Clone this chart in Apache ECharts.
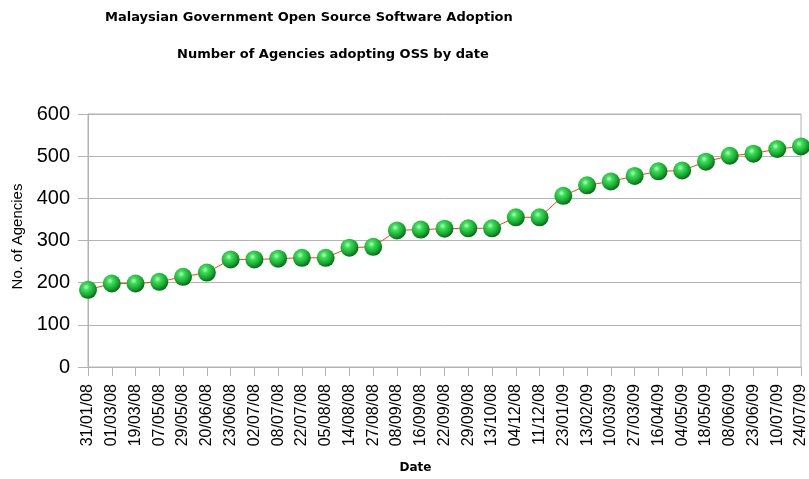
<!DOCTYPE html>
<html>
<head>
<meta charset="utf-8">
<script src="https://cdn.jsdelivr.net/npm/echarts@6/dist/echarts.min.js"></script>
<style>html,body{margin:0;padding:0;background:#fff}#c{width:809px;height:479px}</style>
</head>
<body>
<div id="c"></div>
<script>
const dates = ["31/01/08","01/03/08","19/03/08","07/05/08","29/05/08","20/06/08","23/06/08","02/07/08","08/07/08","22/07/08","05/08/08","14/08/08","27/08/08","08/09/08","16/09/08","22/09/08","29/09/08","13/10/08","04/12/08","11/12/08","23/01/09","13/02/09","10/03/09","27/03/09","16/04/09","04/05/09","18/05/09","08/06/09","23/06/09","10/07/09","24/07/09"];
const agencies = [183,198,198,202,214,224,255,255,257,259,259,283,285,324,326,328,329,329,355,355,406,431,440,453,464,466,487,501,506,517,523];
const titleText = "Malaysian Government Open Source Software Adoption";
const subtitleText = "Number of Agencies adopting OSS by date";
const xName = "Date";
const yName = "No. of Agencies";

const chart = echarts.init(document.getElementById('c'), null, {renderer:'canvas'});
const ball = {
  type: 'radial', x: 0.4, y: 0.35, r: 0.65,
  colorStops: [
    {offset: 0, color: '#c8ffc8'},
    {offset: 0.25, color: '#3ee05a'},
    {offset: 0.7, color: '#16a830'},
    {offset: 1, color: '#0a6a18'}
  ]
};
chart.setOption({
  animation: false,
  backgroundColor: '#fff',
  textStyle: {fontFamily: 'Liberation Sans, Arial, sans-serif'},
  title: [
    {text: titleText, left: 105, top: 11, padding: 0, textStyle: {fontSize: 13, fontWeight: 'bold', color: '#000', fontFamily: 'DejaVu Sans'}},
    {text: subtitleText, left: 177, top: 48, padding: 0, textStyle: {fontSize: 13, fontWeight: 'bold', color: '#000', fontFamily: 'DejaVu Sans'}}
  ],
  grid: {left: 88, right: 7, top: 114, bottom: 111, show: true, borderColor: '#b3b3b3', borderWidth: 1},
  xAxis: {
    type: 'category', data: dates, boundaryGap: false,
    name: xName, nameLocation: 'middle', nameGap: 95,
    nameTextStyle: {fontSize: 12, fontWeight: 'bold', color: '#000', fontFamily: 'DejaVu Sans', padding: [0, 58, 0, 0]},
    axisLine: {lineStyle: {color: '#b3b3b3'}},
    axisTick: {alignWithLabel: true, length: 9, lineStyle: {color: '#b3b3b3'}},
    axisLabel: {rotate: 90, fontSize: 16, color: '#000', margin: 17, interval: 0},
    splitLine: {show: false}
  },
  yAxis: {
    type: 'value', min: 0, max: 600, interval: 100,
    name: yName, nameLocation: 'middle', nameGap: 63, nameRotate: 90,
    nameTextStyle: {fontSize: 15, color: '#000', padding: [0, 0, 0, 8]},
    axisLine: {show: true, lineStyle: {color: '#b3b3b3'}},
    axisTick: {show: true, length: 10, lineStyle: {color: '#b3b3b3'}},
    axisLabel: {fontSize: 20, color: '#000', margin: 18},
    splitLine: {lineStyle: {color: '#b3b3b3'}}
  },
  series: [{
    type: 'line', data: agencies,
    lineStyle: {color: '#ff420e', width: 1},
    symbol: 'circle', symbolSize: 18,
    itemStyle: {color: ball, borderWidth: 0},
    showAllSymbol: true
  }]
});
</script>
</body>
</html>
